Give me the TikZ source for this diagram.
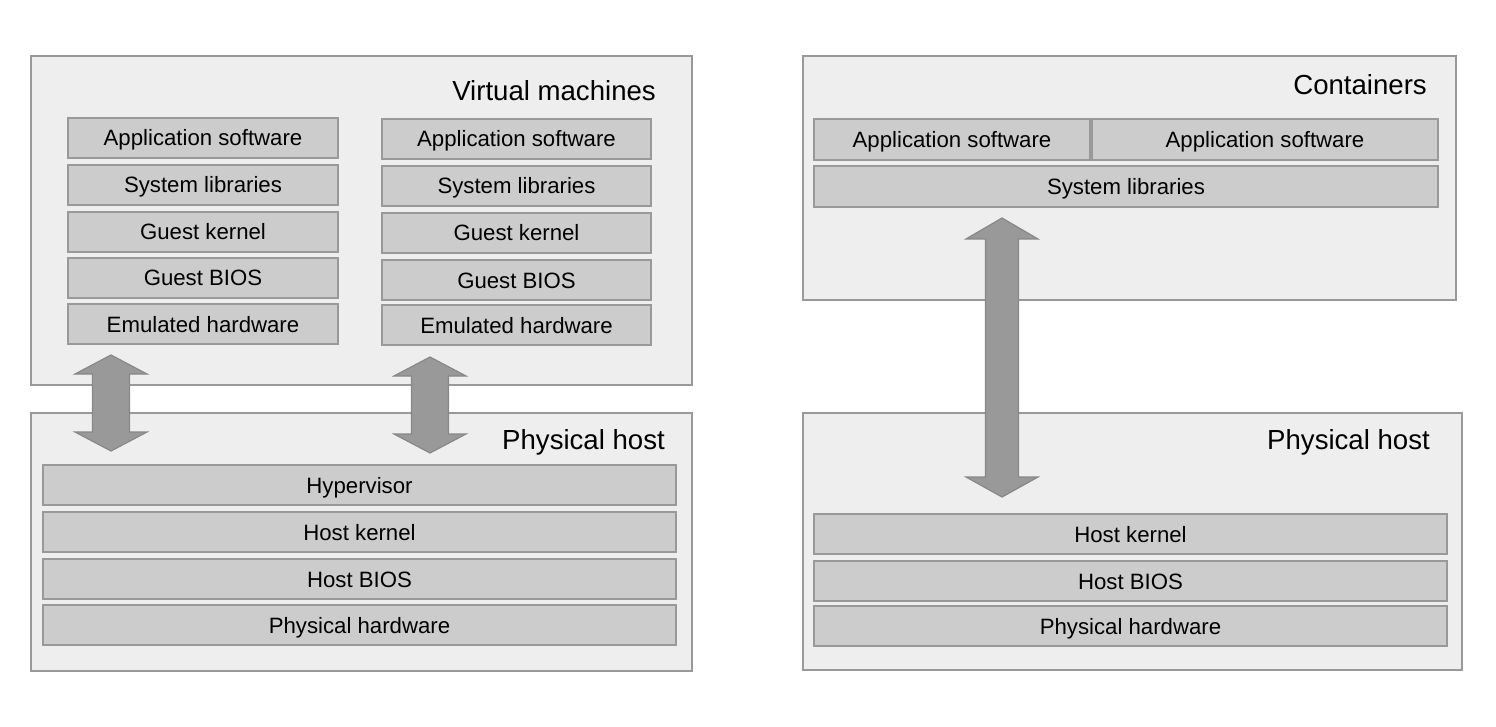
\documentclass[tikz,border=0pt]{standalone}
\usepackage{fontspec}
\setmainfont{Liberation Sans}
\definecolor{outerfill}{HTML}{EEEEEE}
\definecolor{innerfill}{HTML}{CCCCCC}
\definecolor{edge}{HTML}{999999}
\definecolor{arrowfill}{HTML}{999999}
\definecolor{arrowedge}{HTML}{888888}
\tikzset{
  outer/.style={draw=edge, fill=outerfill, line width=1.6pt, inner sep=0pt},
  layer/.style={draw=edge, fill=innerfill, line width=1.6pt, inner sep=0pt,
    text height=18pt, text depth=2pt,
    font=\fontsize{22.2}{26}\selectfont},
  title/.style={anchor=east, inner sep=0pt, font=\fontsize{27.6}{32}\selectfont},
  blockarrow/.style={draw=arrowedge, fill=arrowfill, line width=1.2pt, line join=miter}
}
% #1 name, #2 x1, #3 y1, #4 x2, #5 y2, #6 style, #7 text
\newcommand{\layerbox}[7]{%
  \node[#6, minimum width={(#4-#2)*1pt}, minimum height={(#5-#3)*1pt}]
    (#1) at ({(#2+#4)/2},{(#3+#5)/2}) {#7};}
% double block arrow: #1 center x, #2 top tip y, #3 head base top, #4 head base bottom, #5 bottom tip, #6 half head, #7 half shaft
\newcommand{\dblarrow}[7]{%
  \draw[blockarrow] (#1,#2) -- ({#1+#6},#3) -- ({#1+#7},#3) -- ({#1+#7},#4) -- ({#1+#6},#4)
    -- (#1,#5) -- ({#1-#6},#4) -- ({#1-#7},#4) -- ({#1-#7},#3) -- ({#1-#6},#3) -- cycle;}
\begin{document}
\begin{tikzpicture}[x=1pt,y=-1pt]
\useasboundingbox (0,0) rectangle (1496,727);
% ---------- left: virtual machines ----------
\layerbox{vmbox}{31}{56}{692}{385}{outer}{}
\node[title] (vmtitle) at (656,91) {Virtual machines};
\layerbox{aa}{68}{118}{338}{158}{layer}{Application software}
\layerbox{ab}{68}{165}{338}{205}{layer}{System libraries}
\layerbox{ac}{68}{212}{338}{252}{layer}{Guest kernel}
\layerbox{ad}{68}{258}{338}{298}{layer}{Guest BIOS}
\layerbox{ae}{68}{304}{338}{344}{layer}{Emulated hardware}
\layerbox{ba}{382}{119}{651}{159}{layer}{Application software}
\layerbox{bb}{382}{166}{651}{206}{layer}{System libraries}
\layerbox{bc}{382}{213}{651}{253}{layer}{Guest kernel}
\layerbox{bd}{382}{260}{651}{300}{layer}{Guest BIOS}
\layerbox{be}{382}{305}{651}{345}{layer}{Emulated hardware}
\layerbox{phl}{31}{413}{692}{671}{outer}{}
\node[title] (phltitle) at (665,442) {Physical host};
\layerbox{hyp}{43}{465}{676}{505}{layer}{Hypervisor}
\layerbox{hkl}{43}{512}{676}{552}{layer}{Host kernel}
\layerbox{hbl}{43}{559}{676}{599}{layer}{Host BIOS}
\layerbox{phwl}{43}{605}{676}{645}{layer}{Physical hardware}
\dblarrow{111}{355}{374}{432}{451}{36}{18.5}
\dblarrow{430}{357}{376}{434}{453}{36}{18.5}
% ---------- right: containers ----------
\layerbox{ctbox}{803}{56}{1456}{300}{outer}{}
\node[title] (cttitle) at (1427,85) {Containers};
\layerbox{ca}{814}{119}{1090}{160}{layer}{Application software}
\layerbox{cb}{1092}{119}{1438}{160}{layer}{Application software}
\layerbox{cs}{814}{166}{1438}{207}{layer}{System libraries}
\layerbox{phr}{803}{413}{1462}{670}{outer}{}
\node[title] (phrtitle) at (1430,442) {Physical host};
\layerbox{hkr}{814}{514}{1447}{554}{layer}{Host kernel}
\layerbox{hbr}{814}{561}{1447}{601}{layer}{Host BIOS}
\layerbox{phwr}{814}{606}{1447}{646}{layer}{Physical hardware}
\dblarrow{1002}{218}{239}{477}{497}{36}{16.5}
\end{tikzpicture}
\end{document}
